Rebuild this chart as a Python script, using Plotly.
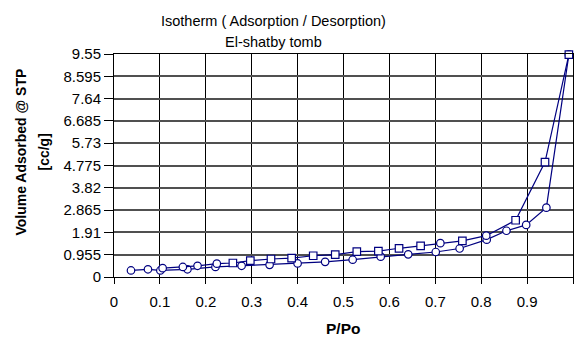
import plotly.graph_objects as go

# Adsorption branch (circles)
ads_p = [0.037, 0.074, 0.101, 0.160, 0.221, 0.278, 0.339, 0.400, 0.460, 0.520,
         0.581, 0.641, 0.701, 0.753, 0.812, 0.855, 0.898, 0.942, 0.991]
ads_v = [0.28, 0.33, 0.28, 0.33, 0.43, 0.48, 0.52, 0.58, 0.65, 0.74,
         0.87, 0.97, 1.07, 1.22, 1.60, 1.98, 2.23, 2.97, 9.52]

# Desorption branch (squares, some circle markers at low P)
des_p = [0.991, 0.939, 0.875, 0.811, 0.759, 0.711, 0.668, 0.621, 0.576, 0.529,
         0.482, 0.434, 0.387, 0.342, 0.297, 0.259, 0.224, 0.182, 0.150, 0.106]
des_v = [9.52, 4.92, 2.43, 1.77, 1.55, 1.45, 1.33, 1.23, 1.11, 1.09,
         0.96, 0.91, 0.81, 0.77, 0.70, 0.60, 0.57, 0.48, 0.43, 0.38]
des_sym = ["square", "square", "square", "circle", "square", "circle", "square",
           "square", "square", "square", "square", "square", "square", "square",
           "square", "square", "circle", "circle", "circle", "circle"]

y_ticks = [0, 0.955, 1.91, 2.865, 3.82, 4.775, 5.73, 6.685, 7.64, 8.595, 9.55]
y_labels = ["0", "0.955", "1.91", "2.865", "3.82", "4.775", "5.73", "6.685", "7.64", "8.595", "9.55"]
x_ticks = [0, 0.1, 0.2, 0.3, 0.4, 0.5, 0.6, 0.7, 0.8, 0.9, 1.0]
x_labels = ["0", "0.1", "0.2", "0.3", "0.4", "0.5", "0.6", "0.7", "0.8", "0.9", "1"]

NAVY = "#000080"
FONT = "Liberation Sans, Arial, sans-serif"

fig = go.Figure()
fig.add_trace(go.Scatter(
    x=ads_p, y=ads_v, mode="lines+markers",
    line=dict(color=NAVY, width=1.2),
    marker=dict(symbol="circle", size=7.5, color="white", line=dict(color=NAVY, width=1.2)),
    showlegend=False, cliponaxis=False))
fig.add_trace(go.Scatter(
    x=des_p, y=des_v, mode="lines+markers",
    line=dict(color=NAVY, width=1.2),
    marker=dict(symbol=des_sym, size=7.5, color="white", line=dict(color=NAVY, width=1.2)),
    showlegend=False, cliponaxis=False))

fig.update_layout(
    width=574, height=337,
    margin=dict(l=113.5, r=0.5, t=54, b=59.7),
    paper_bgcolor="white", plot_bgcolor="white",
    font=dict(family=FONT, size=15, color="black"),
    xaxis=dict(range=[0, 1], tickvals=x_ticks, ticktext=x_labels,
               showgrid=True, gridcolor="black", gridwidth=1,
               showline=True, linecolor="black", linewidth=1, mirror=True,
               ticks="outside", ticklen=6, tickcolor="black",
               ticklabelstandoff=5, zeroline=False, automargin=False,
               tickfont=dict(size=15)),
    yaxis=dict(range=[0, 9.55], tickvals=y_ticks, ticktext=y_labels,
               showgrid=True, gridcolor="#505050", gridwidth=1.5,
               showline=True, linecolor="black", linewidth=1, mirror=True,
               ticks="outside", ticklen=9, tickcolor="black",
               zeroline=False, automargin=False,
               tickfont=dict(size=15)),
    annotations=[
        dict(text="Isotherm ( Adsorption / Desorption)", xref="paper", yref="paper",
             x=(273 - 113.5) / 460, y=1 + (54 - 21) / 223.3, showarrow=False,
             font=dict(size=14.5), xanchor="center", yanchor="middle"),
        dict(text="El-shatby tomb", xref="paper", yref="paper",
             x=(273 - 113.5) / 460, y=1 + (54 - 42) / 223.3, showarrow=False,
             font=dict(size=14.5), xanchor="center", yanchor="middle"),
        dict(text="<b>Volume Adsorbed @ STP</b>", xref="paper", yref="paper",
             x=(20 - 113.5) / 460, y=(277.3 - 152) / 223.3, showarrow=False,
             textangle=-90, font=dict(size=14), xanchor="center", yanchor="middle"),
        dict(text="<b>[cc/g]</b>", xref="paper", yref="paper",
             x=(43 - 113.5) / 460, y=(277.3 - 152) / 223.3, showarrow=False,
             textangle=-90, font=dict(size=14), xanchor="center", yanchor="middle"),
        dict(text="<b>P/Po</b>", xref="paper", yref="paper",
             x=(342.7 - 113.5) / 460, y=-(329 - 277.3) / 223.3, showarrow=False,
             font=dict(size=15.5), xanchor="center", yanchor="middle"),
    ],
)

fig.write_html("out.html")
